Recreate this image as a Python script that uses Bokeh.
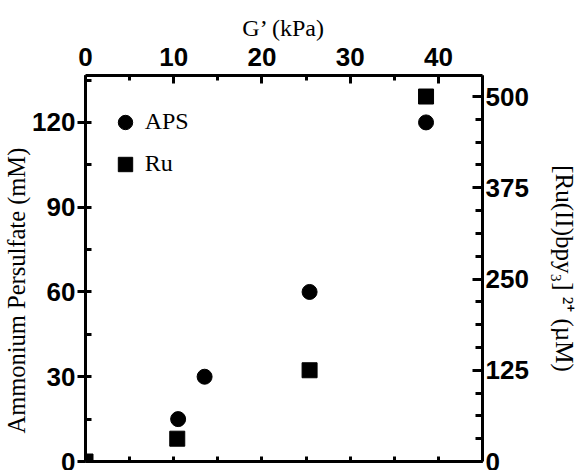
from bokeh.plotting import figure
from bokeh.models import Range1d, LinearAxis, SingleIntervalTicker, FixedTicker, Title
from bokeh.embed import file_html
from bokeh.resources import INLINE

# ---- data ----
g_aps = [10.5, 13.5, 25.4, 38.6]        # G' (kPa) for APS points
aps_mM = [15, 30, 60, 120]              # Ammonium persulfate (mM)
g_ru = [0.0, 10.4, 25.4, 38.6]          # G' (kPa) for Ru points
ru_uM = [0, 31.25, 125, 500]            # [Ru(II)bpy3]2+ (uM)

x_lim = (0, 45)
y_left_lim = (0, 136.6)
y_right_lim = (0, 528.8)
x_tick_step = 10
x_minor_step = 5
y_left_tick_step = 30
y_right_tick_step = 125

TITLE_X = "G\u2019 (kPa)"
TITLE_YL = "Ammonium Persulfate (mM)"
TITLE_YR = "[Ru(II)bpy\u2083] \u00b2\u207a (\u00b5M)"

TICK_FONT = "Liberation Sans"
SERIF = "Liberation Serif"

p = figure(width=584, height=470, output_backend="svg", toolbar_location=None,
           x_range=Range1d(*x_lim), y_range=Range1d(*y_left_lim),
           x_axis_location="above", y_axis_location="left",
           min_border_left=82, min_border_right=102, min_border_top=75,
           min_border_bottom=9)
p.extra_y_ranges = {"ru": Range1d(*y_right_lim)}
p.grid.visible = False
p.outline_line_color = None
p.background_fill_color = "white"
p.border_fill_color = "white"


def style(ax, tin, tout, min_in, min_out, standoff):
    ax.axis_line_width = 3
    ax.axis_line_color = "black"
    ax.major_tick_line_width = 3
    ax.minor_tick_line_width = 3
    ax.major_tick_line_color = "black"
    ax.minor_tick_line_color = "black"
    ax.major_tick_in = tin
    ax.major_tick_out = tout
    ax.minor_tick_in = min_in
    ax.minor_tick_out = min_out
    ax.major_label_standoff = standoff
    ax.major_label_text_font = TICK_FONT
    ax.major_label_text_font_style = "bold"
    ax.major_label_text_color = "black"
    ax.major_label_text_font_size = "26px"


# top axis
top = p.xaxis[0]
top.ticker = SingleIntervalTicker(interval=x_tick_step, num_minor_ticks=2)
style(top, 8, 0, 5, 0, 10)

# left axis
left = p.yaxis[0]
left.ticker = SingleIntervalTicker(interval=y_left_tick_step, num_minor_ticks=2)
style(left, 0, 8, 6, 0, 2)

# right axis
right = LinearAxis(y_range_name="ru",
                   ticker=SingleIntervalTicker(interval=y_right_tick_step, num_minor_ticks=4))
style(right, 10, 0, 7, 0, 3)
right.axis_label = TITLE_YR
right.axis_label_text_font = SERIF
right.axis_label_text_font_size = "25px"
right.axis_label_text_font_style = "normal"
right.axis_label_text_color = "black"
right.axis_label_standoff = 19
p.add_layout(right, "right")

# bottom axis (ticks only, no labels)
bottom_ticks = list(range(x_minor_step, int(x_lim[1]), x_minor_step))
bottom = LinearAxis(ticker=FixedTicker(ticks=[], minor_ticks=bottom_ticks))
style(bottom, 5, 0, 5, 0, 0)
p.add_layout(bottom, "below")

# data
p.scatter(g_aps, aps_mM, marker="circle", size=15, color="black", legend_label="APS")
p.scatter(g_ru, ru_uM, marker="square", size=15, color="black", y_range_name="ru",
          legend_label="Ru")

lg = p.legend[0]
lg.location = (21.7, 279.3)
lg.glyph_width = 36
lg.glyph_height = 36
lg.spacing = 6
lg.padding = 0
lg.margin = 0
lg.label_standoff = 2
lg.border_line_color = None
lg.background_fill_alpha = 0
lg.label_text_font = SERIF
lg.label_text_font_size = "24px"
lg.label_text_color = "black"


def title(text, standoff=0, size="24px", **kw):
    return Title(text=text, text_font=SERIF, text_font_size=size,
                 text_font_style="normal", text_color="black", standoff=standoff, **kw)


p.add_layout(title(TITLE_X, standoff=8, align="center"), "above")
p.add_layout(title(TITLE_YL, size="24.5px", align="left", offset=28), "left")

open("out.html", "w").write(file_html(p, INLINE))
